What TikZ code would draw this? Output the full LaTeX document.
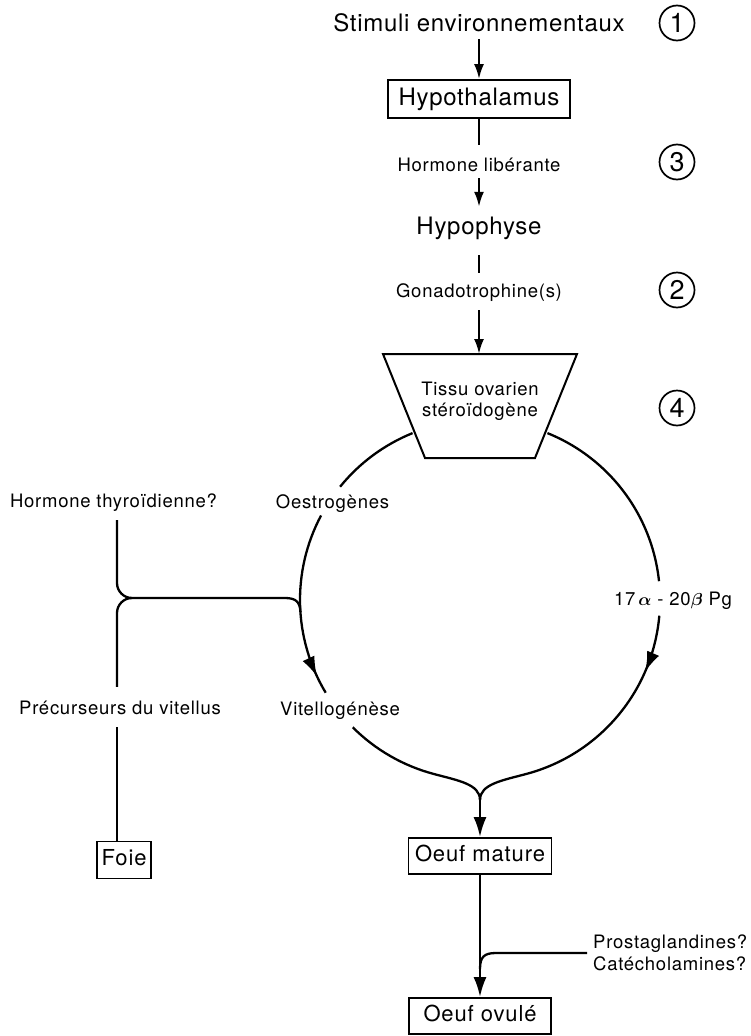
\documentclass[tikz,border=0pt]{standalone}
\usepackage{fontspec}
\setmainfont{TeX Gyre Heros}
\newfontfamily\bigfont[LetterSpace=3]{TeX Gyre Heros}
\newfontfamily\midfont[LetterSpace=4]{TeX Gyre Heros}
\newfontfamily\smallfont[LetterSpace=4]{TeX Gyre Heros}
\usetikzlibrary{arrows.meta,decorations.markings}
\begin{document}
\begin{tikzpicture}[x=1pt,y=1pt,
  bigtxt/.style={font=\bigfont\fontsize{24}{28}\selectfont, inner sep=0pt, text height=17.5pt, text depth=5pt},
  midtxt/.style={font=\midfont\fontsize{22}{26}\selectfont, inner sep=0pt, text height=16pt, text depth=4.5pt},
  smalltxt/.style={font=\smallfont\fontsize{18.5}{22}\selectfont, inner sep=0pt, text height=13.5pt, text depth=3.8pt},
  smallblock/.style={font=\smallfont\fontsize{18.5}{21.5}\selectfont, inner sep=0pt},
  boxnode/.style={draw, line width=1.8pt},
  num/.style={circle, draw, line width=1.7pt, minimum size=35pt, inner sep=0pt, font=\bigfont\fontsize{27}{30}\selectfont},
  conn/.style={line width=2.3pt},
  thick conn/.style={line width=2.6pt},
  arr/.style={conn, -{Latex[length=15pt,width=10pt]}},
  bigarr/.style={thick conn, -{Latex[length=20pt,width=13pt]}},
  midarrow/.style={postaction={decorate}, decoration={markings, mark=at position #1 with {\arrow{Latex[length=20pt,width=13pt]}}}}
]
\useasboundingbox (0,0) rectangle (750,-1036);
\coordinate (C) at (480,-600);
\coordinate (M) at (480,-800);

% top chain
\node[bigtxt, anchor=base] (stim) at (479,-31) {Stimuli environnementaux};
\node[num] (n1) at (677,-23) {1};
\node[bigtxt, boxnode, minimum width=182pt, minimum height=38pt] (hypoth) at (479,-99) {Hypothalamus};
\node[smalltxt, anchor=base] (hl) at (479,-171) {Hormone libérante};
\node[num] (n3) at (677,-162) {3};
\node[bigtxt, anchor=base] (hypo) at (479,-234) {Hypophyse};
\node[smalltxt, anchor=base] (gon) at (479,-297) {Gonadotrophine(s)};
\node[num] (n2) at (677,-290) {2};

% trapezoid
\coordinate (tl) at (383,-354);
\coordinate (tr) at (577,-354);
\coordinate (br) at (535,-458);
\coordinate (bl) at (425,-458);
\draw[line width=2pt, line join=miter] (tl) -- (tr) -- (br) -- (bl) -- cycle;
\node[smallblock, align=center] (tissu) at (480,-401.5) {Tissu ovarien\\stéroïdogène};
\node[num] (n4) at (677,-408) {4};

% labels around circle
\node[smalltxt, anchor=base] (oes) at (332.5,-508) {Oestrogènes};
\node[smalltxt, anchor=base] (vit) at (340,-715) {Vitellogénèse};
\node[smalltxt, anchor=base] (pg) at (673,-605) {17\,{\boldmath$\alpha$} - 20{\boldmath$\beta$}\ Pg};
\node[smalltxt, anchor=base] (thy) at (113.5,-507) {Hormone thyroïdienne?};
\node[smalltxt, anchor=base] (prec) at (120,-714) {Précurseurs du vitellus};

% boxes bottom
\node[midtxt, boxnode, minimum width=54pt, minimum height=37pt] (foie) at (124,-860) {Foie};
\node[midtxt, boxnode, minimum width=143pt, minimum height=36pt] (om) at (480,-856) {Oeuf mature};
\node[midtxt, boxnode, minimum width=142pt, minimum height=36pt] (ov) at (480,-1016) {Oeuf ovulé};
\node[smallblock, align=left, anchor=west] (pc) at (593,-953) {Prostaglandines?\\Catécholamines?};

% top connectors
\draw[arr, shorten <=3pt] (stim.south) -- (hypoth.north);
\draw[conn, shorten >=12.5pt] (hypoth.south) -- (hl.north);
\draw[arr, shorten <=3.2pt, shorten >=9.5pt] (hl.south) -- (hypo.north);
\draw[conn, shorten <=16pt, shorten >=10.5pt] (hypo.south) -- (gon.north);
\draw[arr, shorten <=9.2pt] (gon.south) -- (gon.south |- tl);

% circle
\draw[conn] ([shift={(112:180pt)}]C) arc[start angle=112, end angle=141, radius=180pt];
\draw[conn, midarrow=167pt] ([shift={(152:180pt)}]C) arc[start angle=152, end angle=211, radius=180pt];
\draw[conn] ([shift={(225:180pt)}]C) arc[start angle=225, end angle=255, radius=180pt]
   .. controls (457.6,-780.4) and (480,-784) .. (M);
\draw[conn] ([shift={(68:180pt)}]C) arc[start angle=68, end angle=6, radius=180pt];
\draw[conn, midarrow=58pt] ([shift={(-5:180pt)}]C) arc[start angle=-5, end angle=-75, radius=180pt]
   .. controls (502.5,-780.4) and (480,-784) .. (M);
\draw[bigarr] (M) -- (om.north);

% left junction
\draw[conn] ([shift={(3.5pt,-9.2pt)}]thy.south) -- (117,-583) arc[start angle=180, end angle=270, radius=15pt]
   -- (285,-598) .. controls (296,-598) and (300,-602) .. (300.4,-612);
\draw[conn] ([shift={(-3pt,13.5pt)}]prec.north) -- (117,-613) arc[start angle=180, end angle=90, radius=15pt];
\draw[conn] ([shift={(-3pt,-9.2pt)}]prec.south) -- ([xshift=-7pt]foie.north);

% bottom
\draw[bigarr] (om.south) -- (ov.north);
\draw[conn] ([xshift=-6pt]pc.west) -- (496,-953) .. controls (484,-953) and (480,-957) .. (480,-969);
\end{tikzpicture}
\end{document}
